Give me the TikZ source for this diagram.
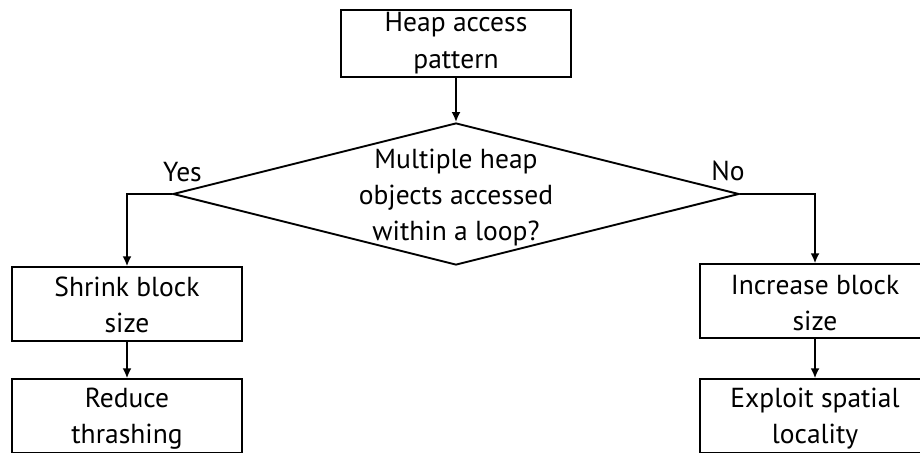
\documentclass[tikz,border=0pt]{standalone}
\usepackage{fontspec}
\setmainfont{PT Sans}
\usetikzlibrary{shapes.geometric,arrows.meta}
\begin{document}
\begin{tikzpicture}[x=1pt,y=-1pt, line width=1.9pt,
  box/.style={draw, rectangle, inner sep=0pt, minimum width=230pt, minimum height=73.5pt},
  decision/.style={draw, diamond, inner sep=0pt, minimum width=566pt, minimum height=142pt},
  txt/.style={align=center, anchor=base, inner sep=0pt, font=\fontsize{27.5pt}{36pt}\selectfont},
  arr/.style={-{Latex[length=10pt,width=9pt]}}]
\useasboundingbox (0,0) rectangle (920,452);
\begin{scope}
\clip (0,0) rectangle (920,452);
% boxes and decision
\node[box, minimum height=67pt] (hap) at (456,43.5) {};
\node[decision] (dia) at (456,194) {};
\node[box] (shrink) at (127,304) {};
\node[box] (reduce) at (127,416) {};
\node[box] (inc) at (815,301) {};
\node[box] (expl) at (815,416) {};
% texts (anchored at the baseline of their last line)
\node[txt] (thap) at (456,68) {Heap access\\pattern};
\node[txt] (tdia) at (456,240) {Multiple heap\\objects accessed\\within a loop?};
\node[txt] (tshrink) at (127,332.5) {Shrink block\\size};
\node[txt] (treduce) at (127,443) {Reduce\\thrashing};
\node[txt] (tinc) at (815,330) {Increase block\\size};
\node[txt] (texpl) at (815,443) {Exploit spatial\\locality};
\node[txt] (yes) at (182.5,181.5) {Yes};
\node[txt] (no) at (728,180) {No};
% connectors
\draw[arr] (hap.south) -- (dia.north);
\draw[arr] (dia.west) -| (shrink.north);
\draw[arr] (dia.east) -| (inc.north);
\draw[arr] (shrink.south) -- (reduce.north);
\draw[arr] (inc.south) -- (expl.north);
\end{scope}
\end{tikzpicture}
\end{document}
